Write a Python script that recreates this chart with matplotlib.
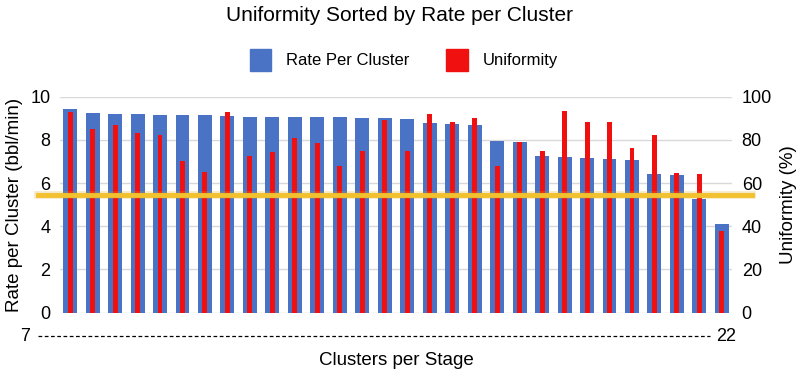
import matplotlib
matplotlib.use("Agg")
import matplotlib.pyplot as plt
from matplotlib.patches import Patch
import numpy as np

plt.rcParams['font.family'] = ['Liberation Sans', 'DejaVu Sans']

# rate per cluster (bbl/min), sorted descending
rate = [9.44, 9.26, 9.21, 9.18, 9.16, 9.16, 9.14, 9.10, 9.07, 9.07,
        9.07, 9.04, 9.04, 9.02, 9.00, 8.97, 8.79, 8.75, 8.67, 7.93,
        7.88, 7.23, 7.19, 7.16, 7.10, 7.05, 6.41, 6.35, 5.27, 4.11]
# uniformity (%)
uniformity = [93, 85, 87, 83, 82, 70, 65, 93, 72.5, 74.5,
              81, 78.5, 68, 75, 89, 75, 92, 88, 90, 68,
              79, 75, 93.5, 88, 88, 76, 82, 64.5, 64, 38]
threshold = 54.5
cluster_lo, cluster_hi = "7", "22"

blue = "#4A73C5"
red = "#F01010"
gold = "#F2C12E"

fig = plt.figure(figsize=(8, 3.7), dpi=100)
ax = fig.add_axes([0.075, 0.155, 0.84, 0.584])
ax2 = ax.twinx()

x = np.arange(len(rate))
ax.bar(x, rate, width=0.62, color=blue, zorder=2)
ax2.bar(x, uniformity, width=0.22, color=red, zorder=3)

ax.set_xlim(-0.45, len(rate) - 0.55)
ax.set_ylim(0, 10)
ax2.set_ylim(0, 100)
ax.set_yticks(range(0, 11, 2))
ax2.set_yticks(range(0, 101, 20))
ax.set_xticks([])
ax.yaxis.grid(True, color="#d9d9d9", linewidth=1, zorder=0)
ax.set_axisbelow(True)

for a in (ax, ax2):
    for s in a.spines.values():
        s.set_visible(False)
    a.tick_params(length=0, labelsize=13)
ax.tick_params(axis='y', pad=7)
ax2.tick_params(axis='y', pad=7)

ax.set_ylabel("Rate per Cluster (bbl/min)", fontsize=13.5, labelpad=5)
ax2.set_ylabel("Uniformity (%)", fontsize=13.5, labelpad=6)

# threshold line, runs a bit past the plot edges
ax2.axhline(threshold, xmin=-0.033, xmax=1.03, color="#d9a520", alpha=0.25,
            linewidth=5.5, clip_on=False, zorder=5)
ax2.axhline(threshold, xmin=-0.033, xmax=1.03, color=gold, linewidth=3.5,
            clip_on=False, zorder=6)

# clusters per stage range under the bars
ax.plot([-0.033, 0.967], [-0.109, -0.109], transform=ax.transAxes,
        color="black", linestyle=(0, (3, 2)), linewidth=0.9, clip_on=False)
ax.text(-0.045, -0.109, cluster_lo, transform=ax.transAxes, ha="right",
        va="center", fontsize=13)
ax.text(0.977, -0.109, cluster_hi, transform=ax.transAxes, ha="left",
        va="center", fontsize=13)
ax.set_xlabel("Clusters per Stage", fontsize=13.5, labelpad=28)

fig.suptitle("Uniformity Sorted by Rate per Cluster", fontsize=15, y=0.985)
handles = [Patch(color=blue, label="Rate Per Cluster"),
           Patch(color=red, label="Uniformity")]
fig.legend(handles=handles, loc="center", bbox_to_anchor=(0.505, 0.838), ncol=2,
           frameon=False, fontsize=12, handlelength=1.3, handleheight=1.6,
           columnspacing=2.2, handletextpad=0.9)

fig.savefig("out.png", dpi=100)
